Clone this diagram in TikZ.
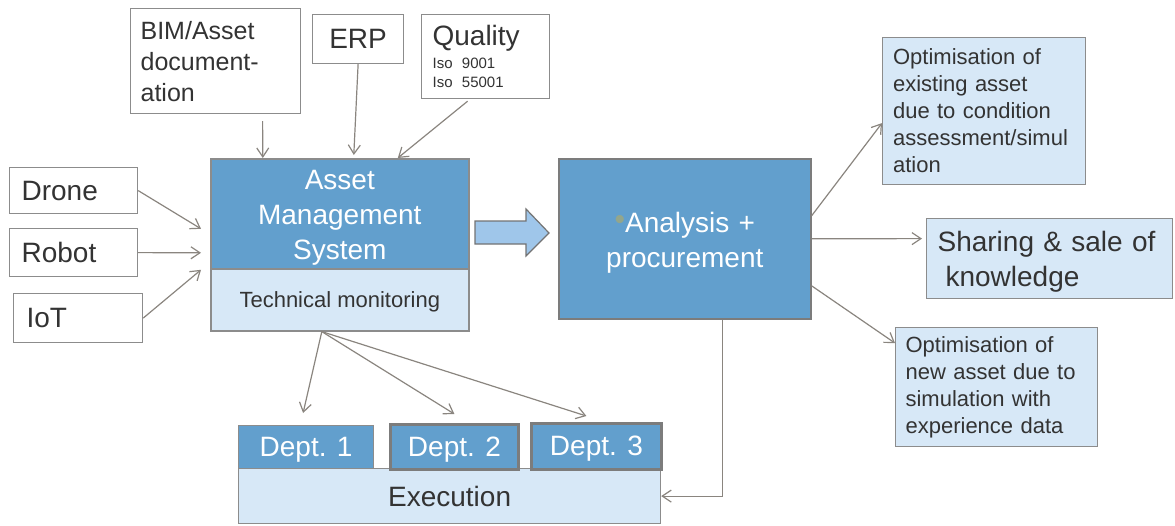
\documentclass[tikz,border=0pt]{standalone}
\usepackage{fontspec}
\setmainfont{Liberation Sans}
\usepackage{xcolor}
\usepackage{tikz}
\usetikzlibrary{arrows.meta}
\definecolor{bluedark}{HTML}{629FCD}
\definecolor{bluesoft}{HTML}{D7E8F7}
\definecolor{bluemid}{HTML}{9FC6EA}
\definecolor{linegray}{HTML}{8C8C8C}
\definecolor{deptline}{HTML}{7C7C7C}
\definecolor{arrowc}{HTML}{8A857F}
\definecolor{inkc}{HTML}{333333}
\definecolor{dotc}{HTML}{93A68C}

\begin{document}
\begin{tikzpicture}[x=1pt, y=-1pt,
  >={Straight Barb[length=9pt,width=12pt]},
  basebox/.style={draw=linegray, line width=1.2pt, anchor=north west, inner sep=0pt, text=inkc},
  srcbox/.style={basebox, fill=white},
  softbox/.style={basebox, fill=bluesoft},
  darkbox/.style={basebox, fill=bluedark, text=white},
  bigtxt/.style={font=\fontsize{28}{35}\selectfont},
  midtxt/.style={font=\fontsize{22}{27}\selectfont},
  link/.style={->, arrowc, line width=1.2pt}]
  \useasboundingbox (0,0) rectangle (1175,525);

  % sources on top and on the left
  \node[srcbox, font=\fontsize{25}{31}\selectfont, minimum width=170pt, minimum height=105pt, text width=150pt, align=left] (bim) at (130,8) {BIM/Asset\\document-\\ation};
  \node[srcbox, bigtxt, minimum width=91pt, minimum height=49pt] (erp) at (312,14) {ERP};
  \node[srcbox, font=\fontsize{28}{34}\selectfont, minimum width=128pt, minimum height=84pt, text width=106pt, align=left] (qual) at (421,14) {Quality\\[-11pt]\parbox[t]{106pt}{\fontsize{15}{19}\selectfont Iso 9001\\Iso 55001}};
  \node[srcbox, bigtxt, minimum width=128pt, minimum height=46pt, text width=104pt, align=left] (drone) at (9,167) {Drone};
  \node[srcbox, bigtxt, minimum width=128pt, minimum height=48pt, text width=104pt, align=left] (robot) at (9,228) {Robot};
  \node[srcbox, bigtxt, minimum width=129pt, minimum height=49pt, text width=103pt, align=left] (iot) at (13,293) {IoT};

  % asset management system
  \node[darkbox, bigtxt, line width=1.6pt, minimum width=258pt, minimum height=110pt, text width=240pt, align=center] (ams) at (210,158) {\rule{0pt}{28pt}Asset\\Management\\System};
  \node[softbox, midtxt, line width=1.6pt, minimum width=258pt, minimum height=62pt] (mon) at (210,268) {\rule{0pt}{20pt}Technical monitoring};

  % block arrow
  \draw[fill=bluemid, draw=gray!90!black, line width=1.2pt]
    (475,221) -- (526,221) -- (526,209) -- (549,233) -- (526,256) -- (526,244) -- (475,244) -- cycle;

  % analysis and results
  \node[darkbox, bigtxt, line width=1.6pt, draw=deptline, minimum width=252pt, minimum height=160pt, text width=240pt, align=center] (ana) at (558,158) {\rule{0pt}{28pt}{\color{dotc}\fontsize{30}{30}\selectfont\raisebox{3pt}{•}}Analysis +\\procurement};
  \node[softbox, midtxt, minimum width=203pt, minimum height=147pt, text width=182pt, align=left] (optold) at (882,37) {Optimisation of\\existing asset\\due to condition\\assessment/simul\\ation};
  \node[softbox, bigtxt, minimum width=246pt, minimum height=80pt, text width=224pt, align=left] (share) at (926,218) {\rule{0pt}{27pt}Sharing \& sale of\\\hspace*{8pt}knowledge};
  \node[softbox, midtxt, minimum width=202pt, minimum height=119pt, text width=182pt, align=left] (optnew) at (895,327) {Optimisation of\\new asset due to\\simulation with\\experience data};

  % execution
  \node[softbox, bigtxt, minimum width=422pt, minimum height=55pt] (exec) at (238,468) {Execution};
  \node[darkbox, bigtxt, minimum width=135pt, minimum height=43pt] (dept1) at (238,425) {\rule{0pt}{24pt}Dept. 1};
  \node[darkbox, bigtxt, draw=deptline, line width=2.8pt, minimum width=128pt, minimum height=45pt] (dept2) at (389,423) {\rule{0pt}{24pt}Dept. 2};
  \node[darkbox, bigtxt, draw=deptline, line width=2.8pt, minimum width=130pt, minimum height=46pt] (dept3) at (530,422) {\rule{0pt}{24pt}Dept. 3};

  % inputs
  \draw[link] ([xshift=47pt,yshift=-7pt]bim.south) -- ([xshift=-77pt]ams.north);
  \draw[link] (erp.south) -- ([xshift=14pt,yshift=3pt]ams.north);
  \draw[link] ([xshift=-18pt,yshift=-2pt]qual.south) -- ([xshift=58pt]ams.north);
  \draw[link] (drone.east) -- ([xshift=-9pt,yshift=-15pt]ams.west);
  \draw[link] (robot.east) -- ([xshift=-9pt,yshift=-39pt]ams.west);
  \draw[link] (iot.east) -- ([xshift=-9pt,yshift=-56pt]ams.west);

  % to the departments
  \coordinate (monout) at ([xshift=-18pt]mon.south);
  \draw[link] (monout) -- ([xshift=-3pt,yshift=12pt]dept1.north);
  \draw[link] (monout) -- ([yshift=9pt]dept2.north);
  \draw[link] (monout) -- ([xshift=-10pt,yshift=6pt]dept3.north);

  % outputs
  \draw[link] ([yshift=23pt]ana.east) -- ([yshift=-12pt]optold.west);
  \draw[link] (ana.east) -- ([xshift=-4pt,yshift=20pt]share.west);
  \draw[link] ([yshift=-47pt]ana.east) -- ([yshift=44pt]optnew.west);
  \draw[link] ([xshift=38pt]ana.south) |- (exec.east);
\end{tikzpicture}
\end{document}
